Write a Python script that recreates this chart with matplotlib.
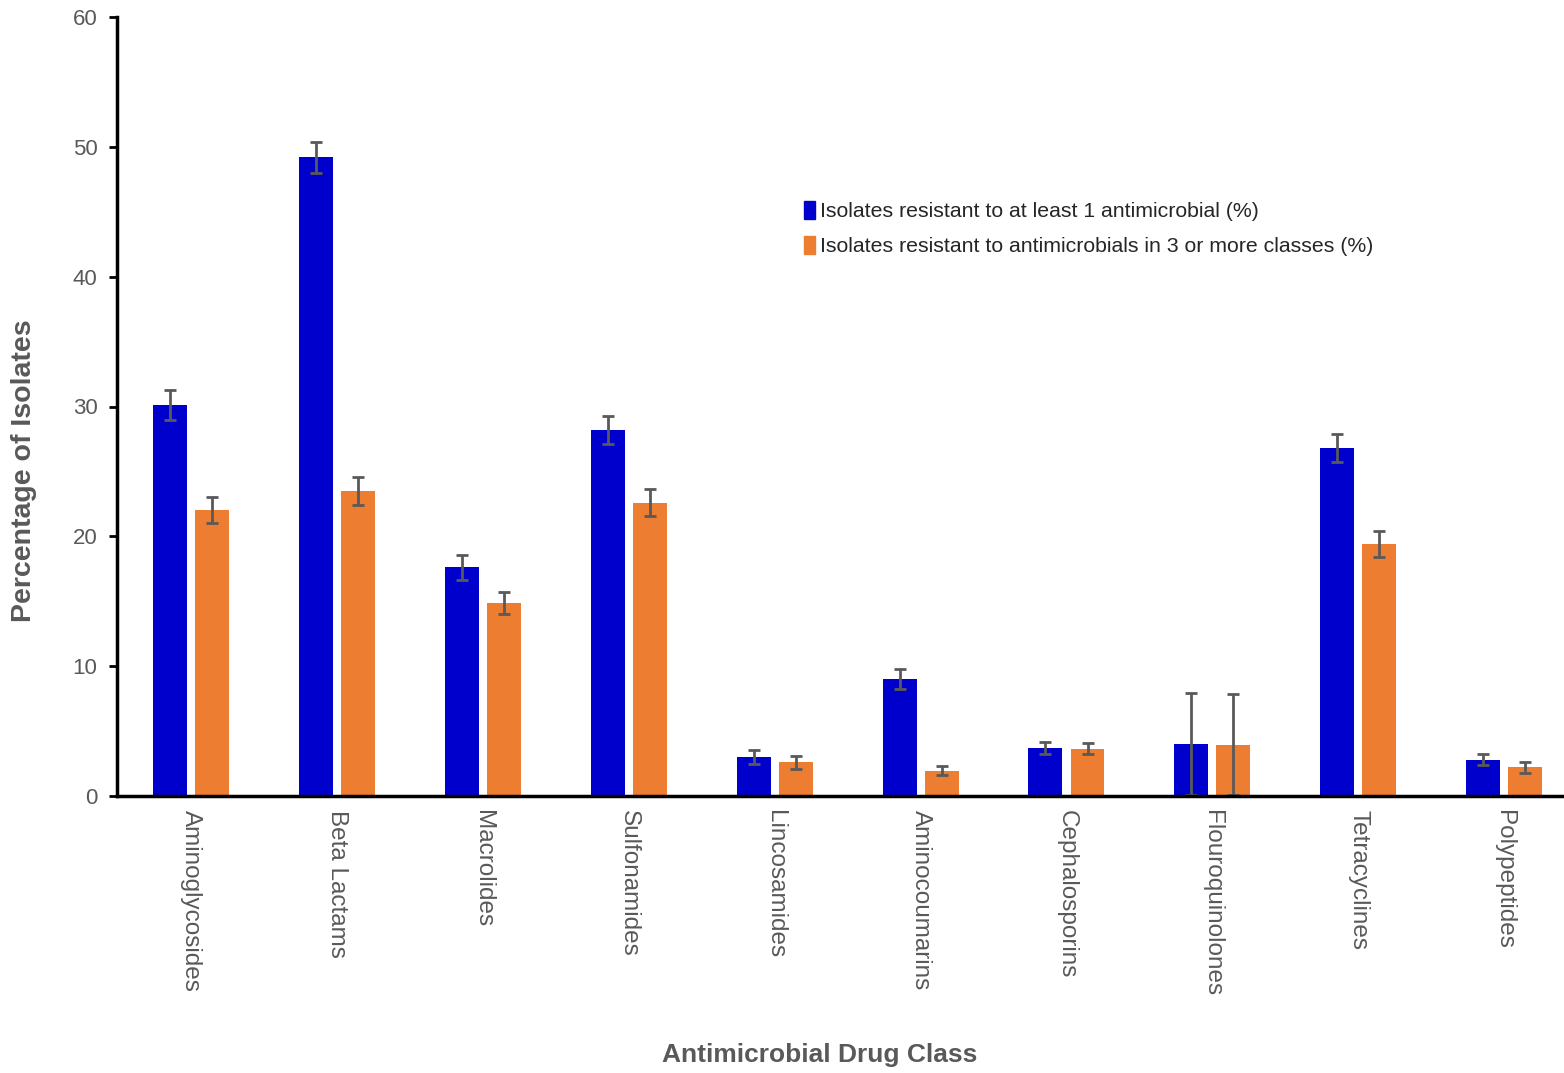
import numpy as np
import matplotlib
matplotlib.use("Agg")
import matplotlib.pyplot as plt
from matplotlib.patches import Patch

plt.rcParams['font.family'] = ['Liberation Sans', 'DejaVu Sans']

drug_classes = ['Aminoglycosides', 'Beta Lactams', 'Macrolides', 'Sulfonamides',
                'Lincosamides', 'Aminocoumarins', 'Cephalosporins', 'Flouroquinolones',
                'Tetracyclines', 'Polypeptides']
resist_one = [30.1, 49.2, 17.6, 28.2, 3.0, 9.0, 3.7, 4.0, 26.8, 2.8]
resist_one_err = [1.15, 1.2, 0.95, 1.1, 0.55, 0.75, 0.45, 3.9, 1.05, 0.45]
resist_multi = [22.0, 23.5, 14.9, 22.6, 2.6, 1.95, 3.65, 3.95, 19.4, 2.2]
resist_multi_err = [1.0, 1.05, 0.85, 1.05, 0.5, 0.35, 0.45, 3.9, 1.0, 0.4]

labels = ['Isolates resistant to at least 1 antimicrobial (%)',
          'Isolates resistant to antimicrobials in 3 or more classes (%)']

blue = '#0000CC'
orange = '#ED7D31'
grey = '#595959'

fig = plt.figure(figsize=(15.64, 10.73), dpi=100)
ax = fig.add_axes([117 / 1564, 1 - 796 / 1073, 1 - 117 / 1564, (796 - 17) / 1073])

x = np.arange(len(drug_classes))
w = 0.233
off = 0.144
err_kw = dict(ecolor=grey, elinewidth=2, capsize=4, capthick=2)
ax.bar(x - off, resist_one, w, color=blue, yerr=resist_one_err, error_kw=err_kw)
ax.bar(x + off, resist_multi, w, color=orange, yerr=resist_multi_err, error_kw=err_kw)

# last category runs slightly past the right edge
ax.set_xlim(-0.508, 9.41)
ax.set_ylim(0, 60)
ax.set_yticks(range(0, 61, 10))
ax.set_xticks(x)
ax.set_xticklabels(drug_classes, rotation=270, fontsize=17.5, color=grey)
ax.tick_params(axis='x', length=0, pad=10)
ax.tick_params(axis='y', length=6, width=2, labelsize=16, labelcolor=grey, pad=8)

for side in ['top', 'right']:
    ax.spines[side].set_visible(False)
for side in ['left', 'bottom']:
    ax.spines[side].set_linewidth(2.5)

fig.text(24 / 1564, 1 - 471 / 1073, 'Percentage of Isolates', fontsize=20.5,
         fontweight='bold', color=grey, rotation=90, ha='center', va='center')
fig.text(820 / 1564, 1 - 1055 / 1073, 'Antimicrobial Drug Class', fontsize=19,
         fontweight='bold', color=grey, ha='center', va='center')

handles = [Patch(color=blue), Patch(color=orange)]
fig.legend(handles, labels, loc='upper left', bbox_to_anchor=(785 / 1564, 1 - 182 / 1073),
           frameon=False, fontsize=15.3, handlelength=0.5, handleheight=0.9,
           handletextpad=0.25, labelspacing=0.7, labelcolor='#262626')

fig.savefig('out.png', dpi=100)
